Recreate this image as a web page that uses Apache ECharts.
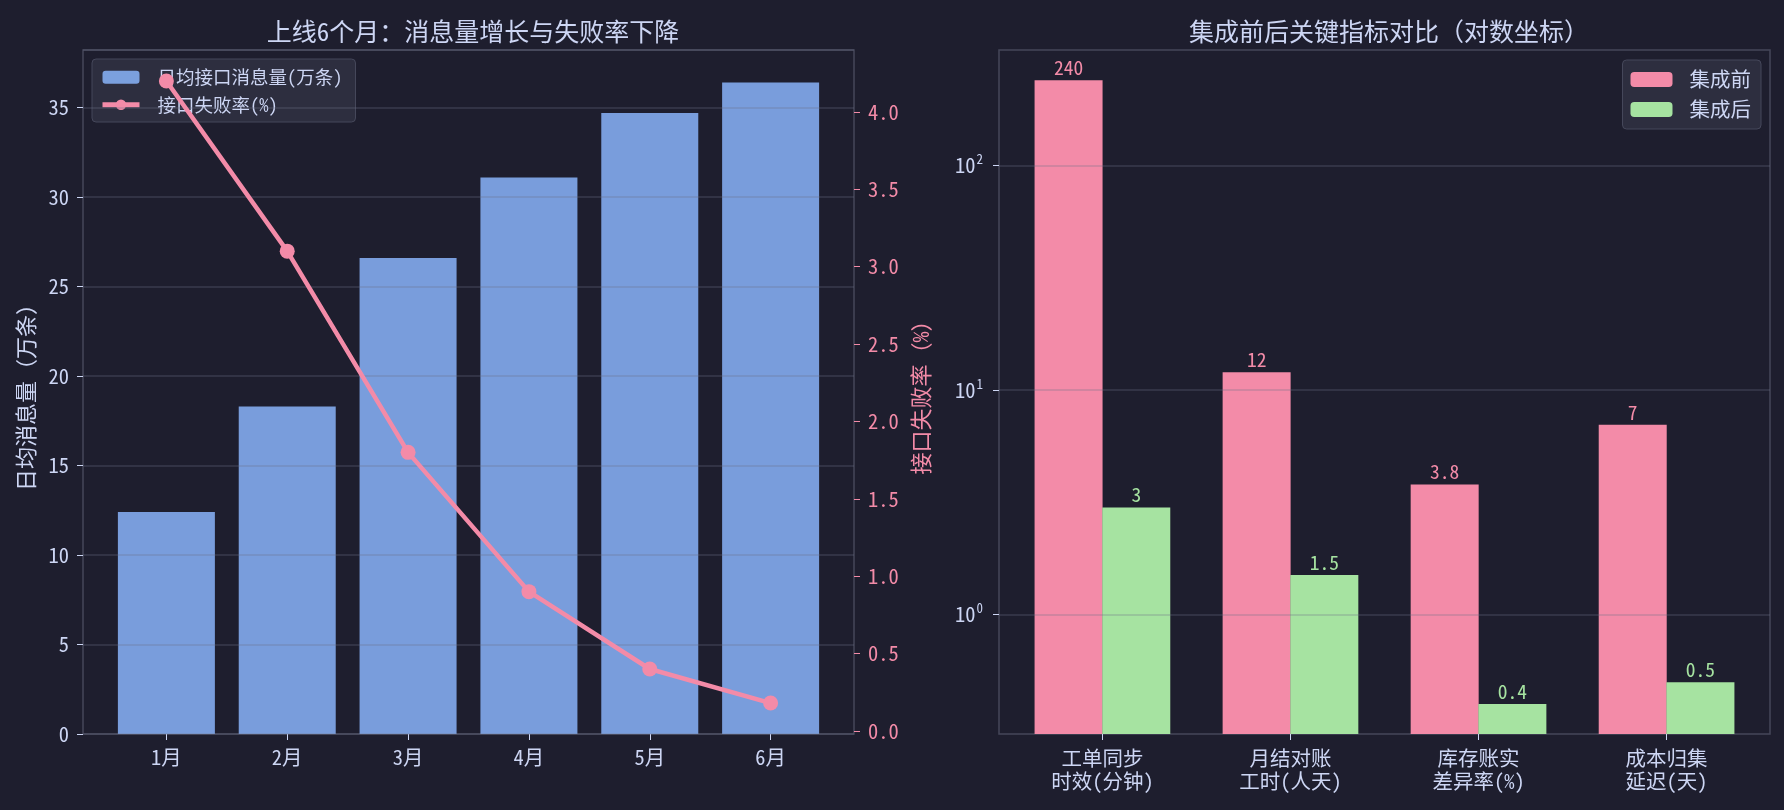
<!DOCTYPE html>
<html>
<head>
<meta charset="utf-8">
<script src="https://cdn.jsdelivr.net/npm/echarts@6/dist/echarts.min.js"></script>
<style>
  html, body { margin: 0; padding: 0; background: #1e1e2e; }
  #chart { width: 1784px; height: 810px; }
</style>
</head>
<body>
<div id="chart"></div>
<script>
// left panel
let months = ['1月', '2月', '3月', '4月', '5月', '6月'];
let msgVolume = [12.4, 18.3, 26.6, 31.1, 34.7, 36.4];
let failRate = [4.2, 3.1, 1.8, 0.9, 0.4, 0.18];
let rateTicks = [0, 0.5, 1, 1.5, 2, 2.5, 3, 3.5, 4];

// right panel
let metrics = ['工单同步\n时效(分钟)', '月结对账\n工时(人天)', '库存账实\n差异率(%)', '成本归集\n延迟(天)'];
let before = [240, 12, 3.8, 7];
let after = [3, 1.5, 0.4, 0.5];
let logTicks = [1, 10, 100];

const FONT = "'Noto Sans Mono CJK SC', 'Noto Sans CJK SC', sans-serif";
const TEXT = '#cdd6f4';
const FRAME = '#45475a';
const GRIDLINE = 'rgba(108,112,134,0.35)';
const BLUE = 'rgba(137,180,250,0.85)';
const PINK = '#f38ba8';
const GREEN = '#a6e3a1';

let monthPos = months.map((m, i) => i);
let metricPos = metrics.map((m, i) => i);

var chart = echarts.init(document.getElementById('chart'));

var option = {
  backgroundColor: '#1e1e2e',
  animation: false,
  textStyle: { fontFamily: FONT },
  title: [{
    text: '上线6个月：消息量增长与失败率下降',
    left: 468, top: 14, textAlign: 'center',
    textStyle: { color: TEXT, fontSize: 25, fontWeight: 'normal', fontFamily: FONT }
  }, {
    text: '集成前后关键指标对比（对数坐标）',
    left: 1384, top: 14, textAlign: 'center',
    textStyle: { color: TEXT, fontSize: 25, fontWeight: 'normal', fontFamily: FONT }
  }],
  legend: [{
    data: [
      { name: '日均接口消息量(万条)' },
      { name: '接口失败率(%)', lineStyle: { width: 5 }, itemStyle: { borderWidth: 0 } }
    ],
    orient: 'vertical',
    left: 92, top: 59,
    z: 1,
    selectedMode: false,
    itemWidth: 37, itemHeight: 13, itemGap: 9,
    padding: [9, 13, 8, 8],
    backgroundColor: 'rgba(49,50,68,0.8)',
    borderColor: FRAME, borderWidth: 1, borderRadius: 4,
    textStyle: { color: TEXT, fontSize: 18.5, lineHeight: 18, padding: [0, 0, 0, 13], fontFamily: FONT }
  }, {
    data: ['集成前', '集成后'],
    orient: 'vertical',
    right: 23, top: 60,
    selectedMode: false,
    itemWidth: 42, itemHeight: 15, itemGap: 9,
    padding: [9, 10, 9, 8],
    backgroundColor: 'rgba(49,50,68,0.8)',
    borderColor: FRAME, borderWidth: 1, borderRadius: 4,
    textStyle: { color: TEXT, fontSize: 20.5, lineHeight: 21, padding: [0, 0, 0, 12], fontFamily: FONT }
  }],
  grid: [
    { left: 83, top: 50, width: 771, height: 684, show: true, borderColor: FRAME, borderWidth: 1.5 },
    { left: 999, top: 50, width: 771, height: 684, show: true, borderColor: FRAME, borderWidth: 1.5 }
  ],
  xAxis: [{
    type: 'value', gridIndex: 0,
    min: -0.69, max: 5.69,
    axisLine: { show: false, onZero: false },
    splitLine: { show: false },
    axisTick: { customValues: monthPos, length: 6, lineStyle: { color: TEXT } },
    axisLabel: {
      customValues: monthPos, margin: 13,
      color: TEXT, fontSize: 20.5, fontFamily: FONT,
      formatter: v => months[Math.round(v)]
    }
  }, {
    type: 'value', gridIndex: 1,
    min: -0.55, max: 3.55,
    axisLine: { show: false, onZero: false },
    splitLine: { show: false },
    axisTick: { customValues: metricPos, length: 6, lineStyle: { color: TEXT } },
    axisLabel: {
      customValues: metricPos, margin: 13,
      color: TEXT, fontSize: 20.5, lineHeight: 23, fontFamily: FONT,
      formatter: v => metrics[Math.round(v)]
    }
  }],
  yAxis: [{
    type: 'value', gridIndex: 0, position: 'left',
    min: 0, max: 38.22, interval: 5,
    z: 3,
    name: '日均消息量（万条）', nameLocation: 'middle', nameGap: 46, nameRotate: 90,
    nameTextStyle: { color: TEXT, fontSize: 22, fontFamily: FONT },
    axisLine: { show: false, onZero: false },
    axisTick: { show: true, length: 6, lineStyle: { color: TEXT } },
    axisLabel: { color: TEXT, fontSize: 20.5, margin: 14, showMaxLabel: false, fontFamily: FONT },
    splitLine: { show: true, lineStyle: { color: GRIDLINE, width: 1.5 } }
  }, {
    type: 'value', gridIndex: 0, position: 'right',
    min: -0.02, max: 4.4,
    name: '接口失败率（%）', nameLocation: 'middle', nameGap: 56, nameRotate: 90,
    nameTextStyle: { color: PINK, fontSize: 22, fontFamily: FONT },
    axisLine: { show: false, onZero: false },
    splitLine: { show: false },
    axisTick: { show: true, customValues: rateTicks, length: 6, lineStyle: { color: PINK } },
    axisLabel: {
      customValues: rateTicks, color: PINK, fontSize: 20.5, margin: 14, fontFamily: FONT,
      formatter: v => v.toFixed(1)
    }
  }, {
    type: 'log', gridIndex: 1, logBase: 10,
    min: 0.294, max: 327, startValue: 0.294,
    z: 3,
    axisLine: { show: false, onZero: false },
    axisTick: { show: true, customValues: logTicks, length: 6, lineStyle: { color: TEXT } },
    axisLabel: {
      customValues: logTicks, color: TEXT, fontSize: 20.5, margin: 16, fontFamily: FONT,
      formatter: v => '10{sup|' + Math.round(Math.log10(v)) + '}',
      rich: { sup: { fontSize: 13, color: TEXT, padding: [0, 0, 13, 1], fontFamily: FONT } }
    },
    splitLine: { show: true, lineStyle: { color: GRIDLINE, width: 1.5 } }
  }],
  series: [{
    name: '日均接口消息量(万条)',
    type: 'bar',
    xAxisIndex: 0, yAxisIndex: 0,
    barWidth: 97,
    itemStyle: { color: BLUE },
    data: msgVolume.map((v, i) => [monthPos[i], v])
  }, {
    name: '接口失败率(%)',
    type: 'line',
    xAxisIndex: 0, yAxisIndex: 1,
    z: 5,
    symbol: 'circle', symbolSize: 15,
    lineStyle: { color: PINK, width: 4.5 },
    itemStyle: { color: PINK },
    data: failRate.map((v, i) => [monthPos[i], v])
  }, {
    name: '集成前',
    type: 'bar',
    xAxisIndex: 1, yAxisIndex: 2,
    barWidth: 68, barGap: '-100%',
    itemStyle: { color: PINK },
    label: {
      show: true, position: 'top', distance: 3,
      color: PINK, fontSize: 19.5, fontFamily: FONT,
      formatter: p => String(p.value[1])
    },
    data: before.map((v, i) => [metricPos[i] - 0.18, v])
  }, {
    name: '集成后',
    type: 'bar',
    xAxisIndex: 1, yAxisIndex: 2,
    barWidth: 68, barGap: '-100%',
    itemStyle: { color: GREEN },
    label: {
      show: true, position: 'top', distance: 3,
      color: GREEN, fontSize: 19.5, fontFamily: FONT,
      formatter: p => String(p.value[1])
    },
    data: after.map((v, i) => [metricPos[i] + 0.18, v])
  }]
};

chart.setOption(option);
</script>
</body>
</html>
